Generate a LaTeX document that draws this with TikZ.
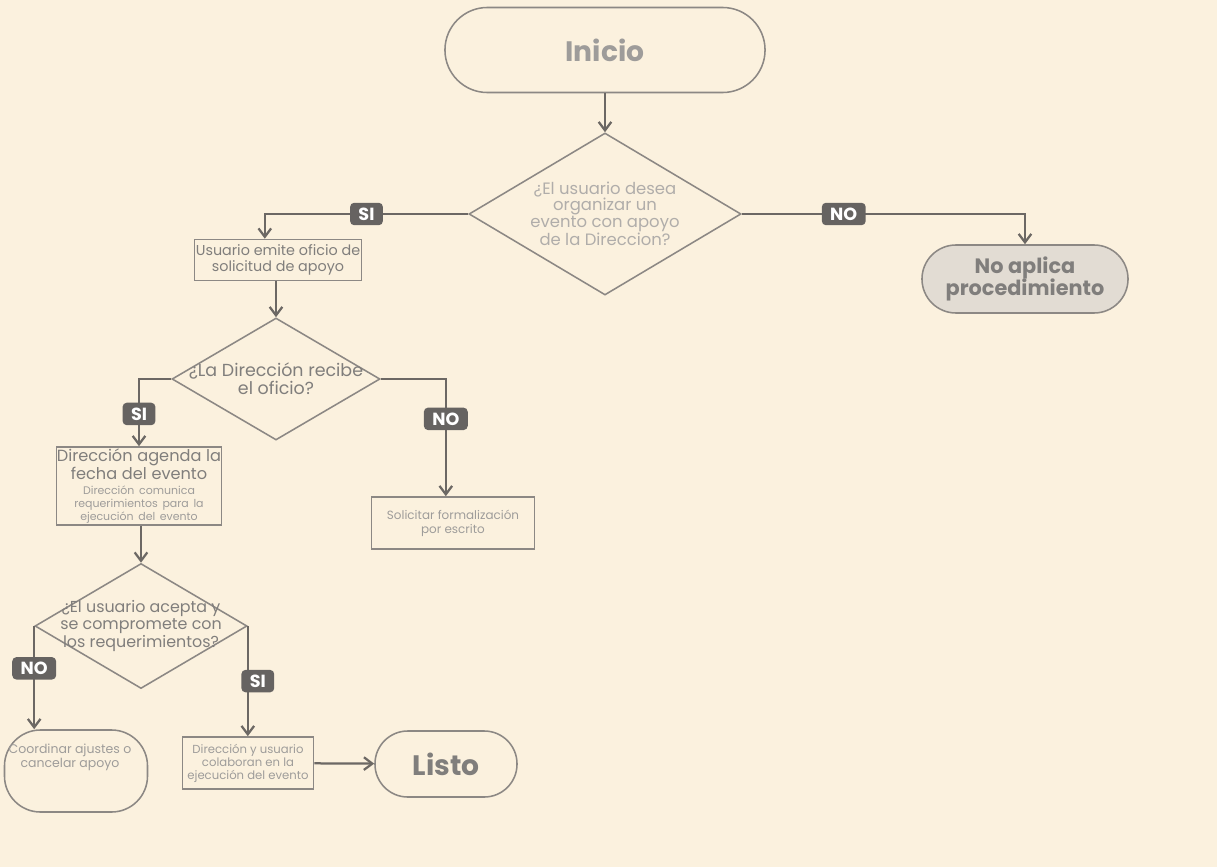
\documentclass[tikz,border=0pt]{standalone}
\usepackage{fontspec}
\setmainfont{Poppins}
\usepackage{tikz}
\usetikzlibrary{
  shapes.geometric,
  arrows.meta,
  positioning
}
\definecolor{PaperBeige}{RGB}{251, 241, 222}
\definecolor{LineGray}{RGB}{108, 104, 100}
\definecolor{EdgeGray}{RGB}{140, 136, 132}
\definecolor{TextGray}{RGB}{128, 126, 124}
\definecolor{SoftGray}{RGB}{158, 156, 154}
\definecolor{PaleGray}{RGB}{176, 173, 170}
\definecolor{TagGray}{RGB}{102, 99, 97}
\definecolor{CloseGray}{RGB}{226, 220, 211}
\tikzset{
    terminal/.style={rectangle, draw=EdgeGray, line width=1.1pt, align=center, inner sep=2pt},
    stepbox/.style={rectangle, draw=EdgeGray, line width=1.1pt, align=center, inner sep=1pt, text=TextGray},
    decision/.style={diamond, draw=EdgeGray, line width=1.1pt, inner sep=0pt},
    qtext/.style={align=center, text=TextGray},
    flow/.style={draw=LineGray, line width=1.6pt, -{Straight Barb[length=6pt, width=9pt, line width=1.6pt]}},
    tag/.style={rectangle, fill=TagGray, rounded corners=3pt, text=white, inner xsep=6pt, inner ysep=3.5pt,
        font=\fontsize{12.5}{13}\selectfont\bfseries},
}

\begin{document}
\begin{tikzpicture}[x=0.025cm, y=-0.025cm]
    \fill[PaperBeige] (0,0) rectangle (1217,867);
    \useasboundingbox (0,0) rectangle (1217,867);

    \node[terminal, minimum width=8cm, minimum height=2.125cm, rounded corners=1.06cm,
        font=\fontsize{20}{24}\selectfont\bfseries, text=SoftGray] (inicio) at (605,50) {Inicio};

    \node[decision, minimum width=6.8cm, minimum height=4.05cm,
        label={[qtext, text=PaleGray, font=\fontsize{11.7}{11}\selectfont]center:{¿El usuario desea\\organizar un\\evento con apoyo\\de la Direccion?}}] (q1) at (605,214) {};

    \node[terminal, fill=CloseGray, minimum width=5.15cm, minimum height=1.7cm, rounded corners=0.85cm,
        font=\fontsize{14.8}{15.8}\selectfont\bfseries, text=TextGray] (noaplica) at (1025,279) {No aplica\\procedimiento};

    \node[stepbox, minimum width=4.175cm, minimum height=1.025cm,
        font=\fontsize{10.2}{11.5}\selectfont] (emite) at (278,260) {Usuario emite oficio de\\solicitud de apoyo};

    \node[decision, minimum width=5.2cm, minimum height=3.05cm,
        label={[qtext, font=\fontsize{12.4}{13}\selectfont]center:{¿La Dirección recibe\\el oficio?}}] (q2) at (276,379) {};

    \node[stepbox, minimum width=4.125cm, minimum height=1.95cm, text width=4.4cm, inner xsep=-0.14cm] (agenda) at (139,486) {
        {\fontsize{11.5}{12.5}\selectfont Dirección agenda la\\fecha del evento\par}
        \vspace{2pt}
        {\fontsize{7.8}{9}\selectfont\color{SoftGray} Dirección comunica\\requerimientos para la\\ejecución del evento\par}
    };

    \node[stepbox, minimum width=4.075cm, minimum height=1.3cm, text=SoftGray,
        font=\fontsize{8.5}{10}\selectfont] (formal) at (453,523) {Solicitar formalización\\por escrito};

    \node[decision, minimum width=5.3cm, minimum height=3.125cm,
        label={[qtext, font=\fontsize{11.3}{12.5}\selectfont]center:{¿El usuario acepta y\\se compromete con\\los requerimientos?}}] (q3) at (141,626) {};

    \node[terminal, minimum width=3.575cm, minimum height=2.05cm, rounded corners=0.9cm,
        label={[qtext, text=SoftGray, xshift=-0.15cm, yshift=0.35cm, font=\fontsize{8.9}{10}\selectfont]center:{Coordinar ajustes o\\cancelar apoyo}}] (coordinar) at (76,771) {};

    \node[stepbox, minimum width=3.275cm, minimum height=1.3cm, text=SoftGray,
        font=\fontsize{8.3}{9.3}\selectfont] (colabora) at (248,763) {Dirección y usuario\\colaboran en la\\ejecución del evento};

    \node[terminal, minimum width=3.55cm, minimum height=1.65cm, rounded corners=0.82cm,
        font=\fontsize{20}{24}\selectfont\bfseries, text=TextGray] (listo) at (446,764) {Listo};

    \draw[flow] (inicio) -- (q1);
    \draw[flow] (q1.west) -| ([xshift=-0.33cm]emite.north) node[tag, pos=0.25] (si1) {SI};
    \draw[flow] (q1.east) -| (noaplica.north) node[tag, pos=0.18] (no1) {NO};
    \draw[flow] (emite.south -| q2.north) -- (q2.north);
    \draw[flow] (q2.west) -| (agenda.north) node[tag, pos=0.76] (si2) {SI};
    \draw[flow] (q2.east) -| ([xshift=-0.18cm]formal.north) node[tag, pos=0.67] (no2) {NO};
    \draw[flow] (agenda.south -| q3.north) -- (q3.north);
    \draw[flow] (q3.west) -- (q3.west |- coordinar.north) node[tag, pos=0.41] (no3) {NO};
    \draw[flow] (q3.east) -- (q3.east |- colabora.north) node[tag, pos=0.5, xshift=0.25cm] (si3) {SI};
    \draw[flow] (colabora) -- (listo);
\end{tikzpicture}
\end{document}
